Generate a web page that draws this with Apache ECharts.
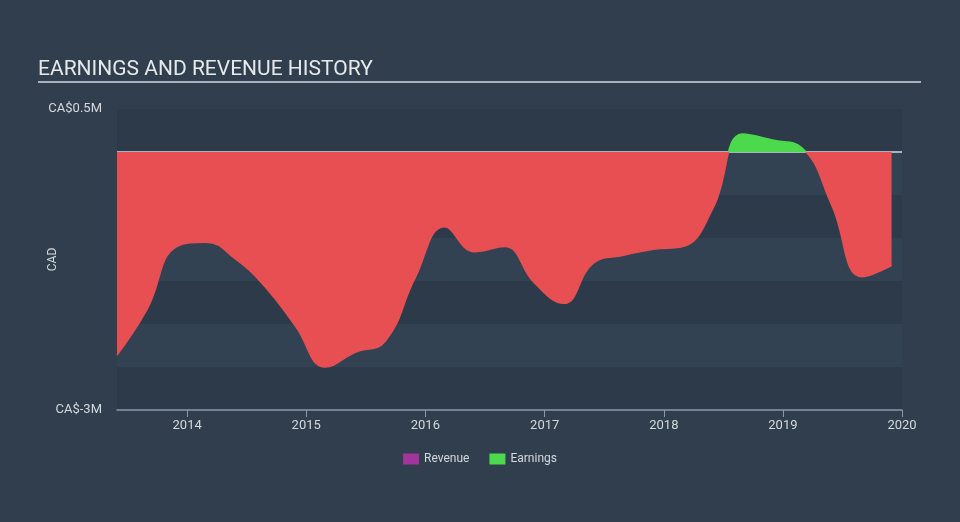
<!DOCTYPE html>
<html>
<head>
<meta charset="utf-8">
<script src="https://cdn.jsdelivr.net/npm/echarts@6/dist/echarts.min.js"></script>
<style>
html,body{margin:0;padding:0;background:#303e4e;}
#chart{width:960px;height:522px;}
</style>
</head>
<body>
<div id="chart"></div>
<script>
// Earnings (TTM), CAD millions
var dates = ['2013-05-31','2013-08-31','2013-11-30','2014-02-28','2014-05-31','2014-08-31','2014-11-30',
  '2015-02-28','2015-05-31','2015-08-31','2015-11-30','2016-02-29','2016-05-31','2016-08-31','2016-11-30',
  '2017-02-28','2017-05-31','2017-08-31','2017-11-30','2018-02-28','2018-05-31','2018-08-31','2018-11-30',
  '2019-02-28','2019-05-31','2019-08-31','2019-11-30'];
var earnings = [-2.36,-1.83,-1.10,-1.05,-1.25,-1.58,-2.03,
  -2.50,-2.33,-2.20,-1.47,-0.87,-1.16,-1.10,-1.52,
  -1.76,-1.29,-1.20,-1.13,-1.10,-0.66,0.21,0.14,
  0.05,-0.62,-1.45,-1.32];
var revenue = [];
var yTicks = ['CA$-3M','CA$0.5M'];
var yMin = -3, yMax = 0.5;
var xMin = '2013-05-31', xMax = '2020-01-01';

var gridTop = 109, gridBottom = 112, H = 522;
var chart = echarts.init(document.getElementById('chart'));
var earnData = dates.map(function(d,i){ return [d, earnings[i]*1e6]; });
var zeroData = [[xMin,0],[xMax,0]];

// hard-stop gradient: green above zero, red below (global coords of the grid)
var zf = (yMax - 0) / (yMax - yMin);
function signGrad(){
  return new echarts.graphic.LinearGradient(0, gridTop, 0, H - gridBottom, [
    {offset:0, color:'#4cd94c'}, {offset:zf, color:'#4cd94c'},
    {offset:zf, color:'#e84f52'}, {offset:1, color:'#e84f52'}
  ], true);
}

chart.setOption({
  backgroundColor: '#303e4e',
  animation: false,
  title: {
    text: 'EARNINGS AND REVENUE HISTORY',
    left: 38, top: 59,
    padding: 0,
    textStyle: {color:'#e6e9ec', fontFamily:'Roboto', fontSize:21, fontWeight:'normal'}
  },
  graphic: [{
    type:'rect', shape:{x:38,y:81,width:883,height:2}, style:{fill:'#aab3bd'}
  }],
  legend: {
    bottom: 52, left: 'center',
    itemWidth: 16, itemHeight: 11, itemGap: 20,
    icon: 'rect',
    textStyle: {color:'#d5d9de', fontFamily:'Roboto', fontSize:12},
    data: [{name:'Revenue', itemStyle:{color:'#a2359c'}}, {name:'Earnings', itemStyle:{color:'#4cd94c'}}]
  },
  grid: {left:117, right:58, top:gridTop, bottom:gridBottom, containLabel:false},
  xAxis: {
    type:'time', min:xMin, max:xMax,
    splitNumber: 7,
    minInterval: 365*24*3600*1000,
    axisLine:{show:true, onZero:false, lineStyle:{color:'#8b9aab', width:1.5}},
    axisTick:{show:true, length:7, lineStyle:{color:'#8b9aab'}},
    axisLabel:{color:'#d5d9de', fontFamily:'Roboto', fontSize:13, margin:9,
      formatter: function(v){ return echarts.time.format(v,'{yyyy}',false); },
      showMinLabel:false, showMaxLabel:true, hideOverlap:false},
    splitLine:{show:false}
  },
  yAxis: {
    type:'value', min:yMin*1e6, max:yMax*1e6, interval:0.5e6,
    name:'CAD', nameLocation:'middle', nameGap:58, nameRotate:90, nameMoveOverlap:false,
    nameTextStyle:{color:'#d5d9de', fontFamily:'Roboto', fontSize:12},
    axisLine:{show:false}, axisTick:{show:false},
    axisLabel:{color:'#d5d9de', fontFamily:'Roboto', fontSize:13, margin:15,
      formatter:function(v){
        if (Math.abs(v-yMin*1e6)<1) return yTicks[0];
        if (Math.abs(v-yMax*1e6)<1) return yTicks[1];
        return '';
      }},
    splitLine:{show:false},
    splitArea:{show:true, areaStyle:{color:['#2d3a4a','#334253']}}
  },
  series: [
    {name:'Zero', type:'line', data:zeroData, symbol:'none', silent:true, z:1,
      lineStyle:{color:'#aab3bd', width:2}},
    {name:'Earnings', type:'line', data:earnData, smooth:0.45, symbol:'none', z:3,
      itemStyle:{color:'#4cd94c'},
      lineStyle:{width:1.5, color:signGrad()}, areaStyle:{opacity:1, color:signGrad()}},
    {name:'Revenue', type:'line', data:revenue, symbol:'none', itemStyle:{color:'#a2359c'}}
  ]
});
</script>
</body>
</html>
